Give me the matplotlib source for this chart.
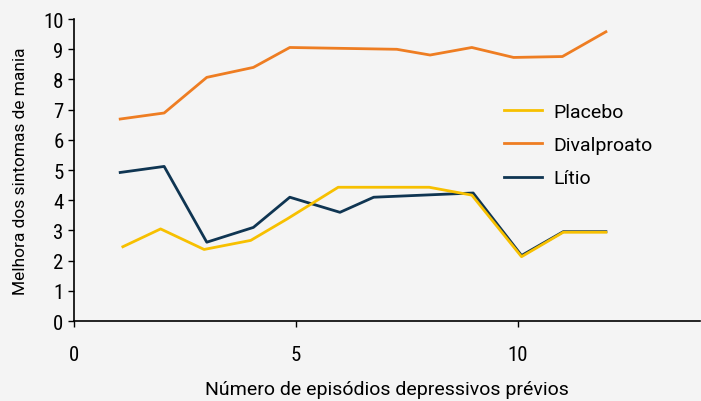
import matplotlib
matplotlib.use("Agg")
import matplotlib.pyplot as plt

placebo_x = [1.1, 1.95, 2.93, 3.98, 4.8, 5.95, 8.0, 8.96, 10.08, 11.02, 11.98]
placebo_y = [2.46, 3.05, 2.37, 2.67, 3.38, 4.43, 4.43, 4.17, 2.13, 2.94, 2.94]

divalproato_x = [1.04, 2.03, 2.99, 4.04, 4.86, 7.27, 8.02, 8.96, 9.9, 11.0, 11.98]
divalproato_y = [6.69, 6.89, 8.07, 8.40, 9.06, 9.0, 8.81, 9.06, 8.73, 8.76, 9.58]

litio_x = [1.04, 2.03, 2.99, 4.04, 4.86, 5.99, 6.75, 8.99, 10.08, 11.02, 11.98]
litio_y = [4.92, 5.12, 2.61, 3.10, 4.10, 3.60, 4.10, 4.24, 2.17, 2.96, 2.96]

x_ticks = [0, 5, 10]
y_ticks = list(range(0, 11))

text_font = ["Roboto", "DejaVu Sans"]
tick_font = ["Roboto Condensed", "Liberation Sans Narrow", "DejaVu Sans"]
plt.rcParams["font.family"] = text_font

bg = "#f4f4f4"
fig = plt.figure(figsize=(7.01, 4.02), dpi=100, facecolor=bg)
ax = fig.add_axes([0.1056, 0.199, 0.893, 0.751], facecolor=bg)

ax.plot(litio_x, litio_y, color="#0f3552", linewidth=2.0, label="Lítio", zorder=2)
ax.plot(divalproato_x, divalproato_y, color="#ee7d22", linewidth=2.0, label="Divalproato", zorder=2)
ax.plot(placebo_x, placebo_y, color="#f7c000", linewidth=2.0, label="Placebo", zorder=3)

ax.set_xlim(0, 14.1)
ax.set_ylim(0, 10)
ax.set_xticks(x_ticks)
ax.set_yticks(y_ticks)
ax.tick_params(labelsize=15, length=4, width=1.0, direction="out", colors="black")
ax.tick_params(axis="x", pad=13)
for lbl in ax.get_xticklabels() + ax.get_yticklabels():
    lbl.set_family(tick_font)
for side in ["top", "right"]:
    ax.spines[side].set_visible(False)
for side in ["left", "bottom"]:
    ax.spines[side].set_linewidth(1.2)

ax.set_xlabel("Número de episódios depressivos prévios", fontsize=14, labelpad=12)
ax.set_ylabel("Melhora dos sintomas de mania", fontsize=12.5, labelpad=11)

handles, labels = ax.get_legend_handles_labels()
order = [2, 1, 0]
ax.legend([handles[i] for i in order], [labels[i] for i in order],
          loc="upper left", bbox_to_anchor=(0.687, 0.722), frameon=False,
          fontsize=14, handlelength=1.95, handletextpad=0.6, labelspacing=0.78,
          borderpad=0, borderaxespad=0)

fig.savefig("out.png", dpi=100, facecolor=bg)
